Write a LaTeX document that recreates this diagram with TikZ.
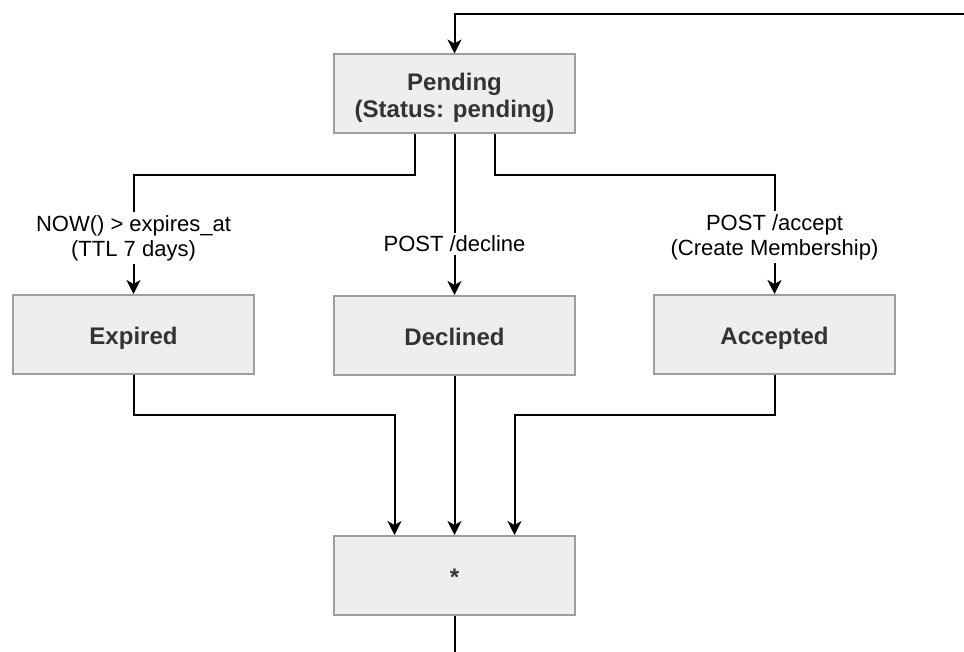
\documentclass[tikz,border=0pt]{standalone}
\usepackage{fontspec}
\setmainfont{Liberation Sans}
\usetikzlibrary{arrows.meta,calc}
\definecolor{boxfill}{HTML}{EEEEEE}
\definecolor{boxline}{HTML}{9E9E9E}
\definecolor{boxtext}{HTML}{333333}
\tikzset{
  state/.style={draw=boxline, line width=2pt, fill=boxfill, minimum width=241pt,
    minimum height=79pt, inner sep=0pt, align=center, text=boxtext,
    font=\fontsize{24}{26.5}\selectfont\bfseries},
  oneline/.style={text height=22pt, text depth=1.6pt},
  flow/.style={draw=black, line width=2pt},
  arr/.style={flow, -{Stealth[length=14pt,width=14pt,inset=4pt]}},
  lbl/.style={fill=white, inner sep=3pt, align=center, text=black,
    font=\fontsize{22}{25.3}\selectfont}
}
\begin{document}
\begin{tikzpicture}[x=1pt,y=-1pt]
  \useasboundingbox (0,0) rectangle (964,652);

  % states
  \node[state] (pending) at (454.5,94)
    {\rule{0pt}{25pt}Pending\\(Status: pending)};
  \node[state, oneline] (expired)  at (133.5,334.5) {Expired};
  \node[state, oneline] (declined) at (454.5,335.5) {Declined};
  \node[state, oneline] (accepted) at (774.5,334.5) {Accepted};
  \node[state, oneline] (final)    at (454.5,575.5) {*};

  % free ends of the loop back into Pending
  \coordinate (loopin)  at (964,14);
  \coordinate (loopout) at (454.5,652);

  % transitions out of Pending
  \draw[arr] ([xshift=-40pt]pending.south) -- ++(0,41)
    -| node[lbl, pos=0.764] {NOW() > expires\_at\\(TTL 7 days)} (expired.north);
  \draw[arr] (pending.south)
    -- node[lbl, pos=0.681] {POST /decline} (declined.north);
  \draw[arr] ([xshift=40pt]pending.south) -- ++(0,41)
    -| node[lbl, pos=0.76] {POST /accept\\(Create Membership)} (accepted.north);

  % terminal states join into the final state
  \draw[arr] (expired.south) -- ++(0,40) -| ([xshift=-60pt]final.north);
  \draw[arr] (declined.south) -- (final.north);
  \draw[arr] (accepted.south) -- ++(0,40) -| ([xshift=60pt]final.north);

  % loop
  \draw[flow] (final.south) -- (loopout);
  \draw[arr] (loopin) -| (pending.north);
\end{tikzpicture}
\end{document}
